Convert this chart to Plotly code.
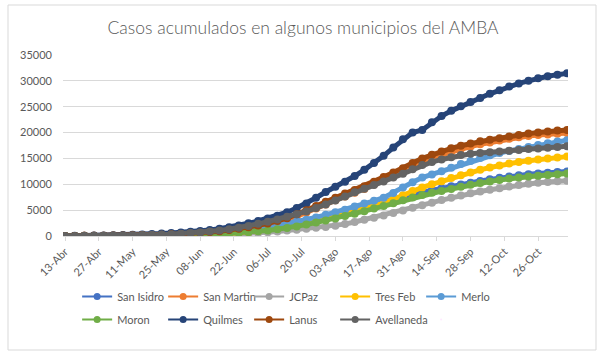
import pandas as pd
import plotly.graph_objects as go

# ---- data (one value every 4 days from 13-Abr) ----
dates = pd.date_range("2020-04-13", periods=53, freq="4D")

series_names = ["San Isidro", "San Martin", "JCPaz", "Tres Feb", "Merlo",
                "Moron", "Quilmes", "Lanus", "Avellaneda"]

san_isidro = [0, 3, 6, 10, 15, 22, 30, 40, 55, 70,
              90, 115, 145, 185, 235, 300, 380, 480, 610, 770,
              960, 1200, 1480, 1800, 2200, 2650, 3100, 3600, 4100, 4650,
              5200, 5700, 6200, 6650, 7100, 7550, 8000, 8450, 8850, 9250,
              9600, 9950, 10300, 10650, 10950, 11250, 11500, 11750, 11950, 12100,
              12250, 12380, 12480]
san_martin = [5, 15, 25, 35, 50, 70, 90, 115, 150, 190,
              235, 290, 360, 450, 560, 690, 850, 1050, 1280, 1550,
              1880, 2200, 2650, 3150, 3800, 4550, 5300, 6100, 6900, 7650,
              8350, 9100, 9950, 10800, 11700, 12600, 13500, 14350, 15050, 15700,
              16300, 16850, 17300, 17750, 18100, 18450, 18800, 19100, 19350, 19550,
              19650, 19780, 19900]
jcpaz = [0, 2, 4, 6, 9, 12, 16, 22, 30, 40,
         52, 68, 88, 112, 140, 175, 220, 280, 360, 460,
         580, 720, 880, 1050, 1220, 1400, 1600, 1750, 2000, 2300,
         2700, 3150, 3550, 3950, 4450, 4950, 5450, 5950, 6450, 6950,
         7400, 7850, 8250, 8600, 8950, 9250, 9550, 9850, 10100, 10300,
         10450, 10580, 10700]
tres_feb = [0, 3, 6, 10, 15, 20, 28, 38, 50, 65,
            85, 110, 140, 180, 230, 290, 370, 470, 600, 760,
            950, 1200, 1450, 1750, 2100, 2500, 2900, 3350, 3800, 4300,
            4800, 5300, 5800, 6400, 7100, 7900, 8700, 9400, 10000, 10600,
            11200, 11750, 12300, 12800, 13250, 13650, 14000, 14300, 14550, 14800,
            15000, 15200, 15350]
merlo = [0, 5, 10, 15, 20, 30, 40, 55, 75, 100,
         130, 170, 220, 290, 370, 470, 600, 760, 950, 1180,
         1450, 1750, 2100, 2450, 2800, 3150, 3600, 4100, 4600, 5100,
         5700, 6300, 6800, 7400, 8300, 9400, 10400, 11300, 11900, 12500,
         13200, 13900, 14500, 15100, 15600, 16050, 16450, 16800, 17200, 17600,
         17950, 18250, 18500]
moron = [0, 3, 6, 10, 14, 20, 28, 38, 50, 65,
         85, 110, 140, 180, 230, 290, 370, 470, 590, 740,
         900, 1080, 1300, 1550, 1850, 2200, 2600, 3000, 3400, 3850,
         4300, 4800, 5300, 5800, 6350, 6900, 7450, 7950, 8350, 8700,
         9100, 9500, 9900, 10250, 10550, 10850, 11100, 11300, 11500, 11650,
         11800, 11950, 12100]
quilmes = [20, 40, 60, 80, 110, 140, 180, 230, 300, 380,
           460, 560, 680, 820, 980, 1180, 1420, 1700, 2050, 2450,
           2900, 3400, 3900, 4600, 5400, 6300, 7400, 8500, 9500, 10500,
           11600, 12800, 14100, 15500, 17100, 18700, 20000, 20500, 22000, 23200,
           24200, 25100, 25900, 26700, 27500, 28200, 28900, 29500, 30000, 30500,
           30900, 31200, 31450]
lanus = [10, 20, 30, 40, 60, 80, 100, 130, 170, 210,
         260, 320, 400, 500, 620, 760, 930, 1150, 1400, 1700,
         2050, 2400, 2900, 3450, 4200, 5000, 5800, 6600, 7400, 8200,
         8900, 9600, 10500, 11400, 12300, 13100, 14100, 15000, 15700, 16350,
         16950, 17450, 17900, 18300, 18600, 18900, 19250, 19550, 19800, 20000,
         20200, 20380, 20500]
avellaneda = [10, 20, 30, 45, 60, 80, 110, 140, 180, 230,
              290, 360, 450, 560, 690, 850, 1050, 1300, 1600, 1950,
              2350, 2750, 3200, 3700, 4200, 4760, 5400, 6100, 6850, 7650,
              8450, 9150, 9850, 10550, 11300, 12050, 12900, 13750, 14300, 14800,
              15250, 15650, 15900, 16050, 16200, 16350, 16500, 16650, 16800, 16900,
              17050, 17200, 17350]

tick_dates = ["2020-04-13", "2020-04-27", "2020-05-11", "2020-05-25", "2020-06-08",
              "2020-06-22", "2020-07-06", "2020-07-20", "2020-08-03", "2020-08-17",
              "2020-08-31", "2020-09-14", "2020-09-28", "2020-10-12", "2020-10-26"]
tick_labels = ["13-Abr", "27-Abr", "11-May", "25-May", "08-Jun", "22-Jun", "06-Jul",
               "20-Jul", "03-Ago", "17-Ago", "31-Ago", "14-Sep", "28-Sep", "12-Oct", "26-Oct"]
y_ticks = [0, 5000, 10000, 15000, 20000, 25000, 30000, 35000]
y_tick_labels = ["0", "5000", "10000", "15000", "20000", "25000", "30000", "35000"]

colors = ["#4472C4", "#ED7D31", "#A5A5A5", "#FFC000", "#5B9BD5",
          "#70AD47", "#264478", "#9E480E", "#636363"]
values = [san_isidro, san_martin, jcpaz, tres_feb, merlo, moron, quilmes, lanus, avellaneda]

FONT = "Lato, 'Open Sans', sans-serif"
TXT = "#595959"

fig = go.Figure()
for name, col, vals in zip(series_names, colors, values):
    fig.add_trace(go.Scatter(
        x=dates, y=vals, name=name, mode="lines+markers",
        line=dict(color=col, width=5),
        marker=dict(color=col, size=8),
        showlegend=False, hoverinfo="x+y+name"))
# legend entries with thin lines like the original (first 5 in row 1, rest in row 2)
for i, (name, col) in enumerate(zip(series_names, colors)):
    fig.add_trace(go.Scatter(
        x=[None], y=[None], name=name, mode="lines+markers",
        line=dict(color=col, width=2), marker=dict(color=col, size=7),
        showlegend=True, legend="legend" if i < 5 else "legend2"))
# empty slot so the last entry of the second row is not clipped
fig.add_trace(go.Scatter(x=[None], y=[None], name=" ", mode="markers",
                         marker=dict(opacity=0, size=1), showlegend=True,
                         legend="legend2", hoverinfo="skip"))

leg_common = dict(orientation="h", xanchor="left", yanchor="top",
                  entrywidth=41, entrywidthmode="pixels", tracegroupgap=0,
                  font=dict(family=FONT, size=11, color=TXT),
                  bgcolor="rgba(0,0,0,0)", itemclick=False, itemdoubleclick=False)

fig.update_layout(
    width=606, height=361,
    margin=dict(l=63, r=38, t=55, b=125),
    paper_bgcolor="white", plot_bgcolor="white",
    font=dict(family=FONT, color=TXT, size=11),
    title=dict(text="Casos acumulados en algunos municipios del AMBA",
               x=0.5, xref="container", xanchor="center",
               y=1 - 28 / 361, yref="container", yanchor="middle",
               font=dict(family=FONT, size=17.5, color=TXT, weight=300)),
    legend=dict(x=0.028, y=-0.254, **leg_common),
    legend2=dict(x=0.028, y=-0.381, **leg_common),
    showlegend=True,
)
fig.update_xaxes(
    type="date", range=["2020-04-12 04:00", "2020-11-07 09:00"],
    tickvals=tick_dates, ticktext=tick_labels, tickangle=-45,
    ticks="outside", ticklen=4, tickcolor="#D9D9D9",
    showgrid=False, showline=True, linecolor="#D9D9D9", linewidth=1,
    tickfont=dict(family=FONT, size=11, color=TXT), zeroline=False)
fig.update_yaxes(
    range=[0, 35000], tickvals=y_ticks, ticktext=y_tick_labels,
    showgrid=True, gridcolor="#D9D9D9", gridwidth=1,
    zeroline=False, showline=False, ticks="", ticklabelstandoff=10,
    tickfont=dict(family=FONT, size=11, color=TXT))

# outer chart border
fig.add_shape(type="rect", xref="paper", yref="paper",
              x0=(8 - 63) / 505, x1=(596 - 63) / 505,
              y0=(236 - 350) / 181, y1=(236 - 5) / 181,
              line=dict(color="#D9D9D9", width=1), fillcolor="rgba(0,0,0,0)", layer="below")

fig.write_html("out.html", config={"displayModeBar": False},
               post_script="document.body.style.margin='0';")
